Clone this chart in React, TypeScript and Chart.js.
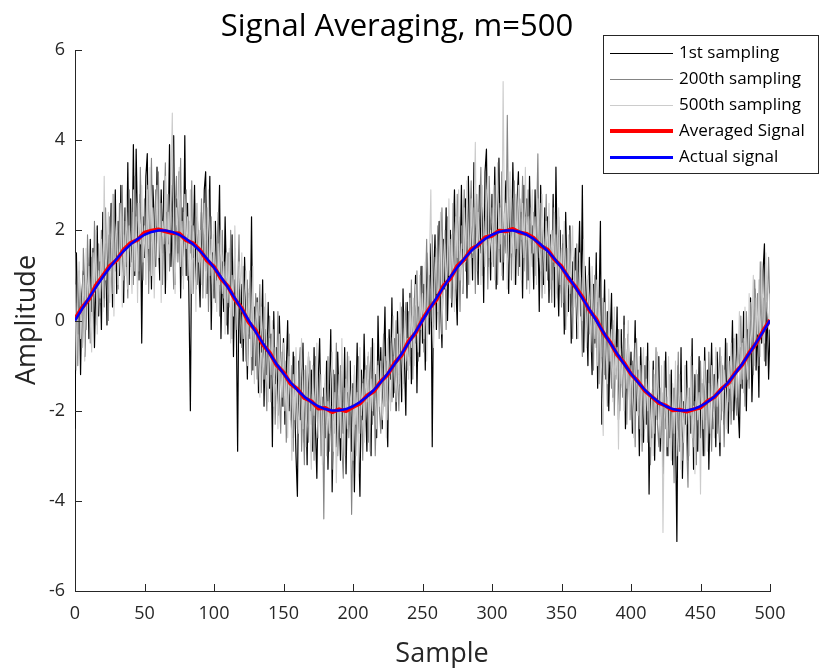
import React, { useEffect, useRef } from "react";
import { Chart, registerables } from "chart.js";
Chart.register(...registerables);

const FONT = "'Open Sans', 'DejaVu Sans', sans-serif";
const AXIS_COLOR = "#262626";

const TITLE = "Signal Averaging, m=500";
const X_LABEL = "Sample";
const Y_LABEL = "Amplitude";
const SERIES_LABELS = ["1st sampling", "200th sampling", "500th sampling", "Averaged Signal", "Actual signal"];
const SERIES_COLORS = ["#000000", "#848484", "#cccccc", "#ff0000", "#0000ff"];
const SERIES_WIDTHS = [1.2, 1.1, 1.1, 4, 2.5];
const X_TICKS = [0, 50, 100, 150, 200, 250, 300, 350, 400, 450, 500];
const Y_TICKS = [-6, -4, -2, 0, 2, 4, 6];
const SMOOTH_STEP = 5; // smooth series are sampled every 5 samples

// 1st sampling (samples 0..500)
const FIRST_SAMPLING = [
  -2.4, 1.5, -0.3, 0.9, -1.2, 0.6, 1.1, -0.8, 0.3, 1.4,
  -0.4, 1.8, 0.2, 1.6, -0.6, 0.9, 2.1, 0.1, 1.3, -0.2,
  2.4, 0.5, 1.7, -0.1, 1.9, 1.1, 2.6, 0.3, 1.5, 2.9,
  0.6, 2.2, 1.0, 3.0, 1.4, 0.4, 2.5, 1.2, 3.5, 0.8,
  2.7, 1.3, 3.9, 1.0, 3.8, 2.0, 0.9, 2.8, -0.5, 2.3,
  1.4, 3.2, 3.7, 1.1, 2.6, 0.7, 3.0, 2.2, 1.2, 3.4,
  1.8, 0.9, 2.9, 1.5, 3.1, 0.6, 2.4, 1.7, 3.9, 1.2,
  2.2, 4.1, 0.8, 2.7, 1.5, 3.3, 0.5, 2.5, 1.3, 4.1,
  1.0, 2.6, 0.4, -2.0, 2.1, 1.4, 3.0, 0.7, 2.3, 1.2,
  0.3, 2.4, 1.1, 2.9, 3.3, 0.6, 1.8, 3.2, -0.2, 1.5,
  0.5, 2.2, 0.9, 1.6, 3.0, -0.4, 1.3, 0.2, 2.3, 0.8,
  -0.3, 1.5, 0.6, 1.9, -0.8, 0.9, 0.1, -2.9, 1.2, -0.5,
  0.8, -0.9, 1.4, 0.2, -1.3, 0.6, -0.4, 2.3, -1.1, 0.3,
  -1.0, 0.5, -1.6, 0.1, -0.7, 0.9, -1.9, -0.2, -1.2, 0.4,
  -1.5, -0.3, -2.8, 0.2, -1.4, -0.6, -2.1, 0.1, -1.0, -1.9,
  -0.4, -2.3, -1.1, 0.0, -2.0, -1.5, -2.6, -0.7, -1.8, -3.0,
  -3.9, -0.9, -2.2, -1.3, -0.5, -2.7, -1.6, -3.2, -0.8, -2.0,
  -1.1, -2.9, -0.6, -2.4, -3.5, -1.3, -0.4, -2.2, -3.0, -1.5,
  -2.6, -0.9, -3.3, -1.7, -0.2, -3.8, -2.1, -1.2, -2.8, -0.7,
  -1.9, -3.1, -1.0, -2.5, -0.6, -3.4, -1.6, -2.3, -0.9, -2.9,
  -1.4, -3.8, -2.0, -0.5, -2.7, -3.9, -1.1, -2.2, -0.3, -1.8,
  -2.9, -0.8, -1.6, -3.0, -0.4, -2.1, -1.2, -2.6, 0.1, -1.5,
  -0.6, -2.4, -1.0, 0.3, -1.9, -2.8, -0.2, -1.3, 0.5, -1.7,
  -0.4, -2.0, 0.2, -1.2, -0.3, -1.8, 0.7, -0.9, -2.1, 0.4,
  -1.0, 0.6, -1.4, 0.1, -0.2, 1.0, -1.6, 0.3, -0.8, 1.2,
  -0.5, 0.8, -1.1, 1.5, 0.2, -0.3, 1.7, -2.8, 0.9, 1.9,
  -0.2, 1.3, 2.2, 0.4, -0.6, 1.8, 0.7, 2.5, 0.0, 1.4,
  2.0, 0.3, 1.6, 2.9, 0.8, -0.1, 2.3, 1.1, 3.0, 0.6,
  1.9, 2.7, 0.5, 3.2, 1.4, 2.4, 0.9, 3.5, 1.7, 2.2,
  0.8, 3.0, 1.5, 2.6, 0.4, 3.3, 3.8, 1.2, 2.5, 0.9,
  2.8, 1.6, 3.4, 0.7, 2.2, 3.6, 1.3, 2.7, 0.9, 2.4,
  3.1, 1.7, 0.6, 2.9, 1.4, 3.5, 2.0, 0.8, 2.6, 3.3,
  1.2, 2.4, 0.5, 3.0, 1.8, 2.7, 0.9, 3.2, 1.5, 2.1,
  0.7, 2.9, 1.3, 2.2, 0.2, 3.0, 1.6, 0.8, 2.5, 1.1,
  2.3, 0.4, 1.9, 0.9, 2.8, 0.3, 3.4, 1.2, 0.1, 2.0,
  0.6, 1.7, -0.3, 2.4, 1.0, 0.2, 2.1, -0.5, 1.3, 0.7,
  1.6, -0.4, 0.9, 2.2, 0.1, 3.0, -0.7, 1.2, 0.3, -1.0,
  1.4, 0.0, -1.2, 0.8, -0.5, 1.5, -1.5, 0.3, 2.2, -2.3,
  -0.6, 0.9, -1.3, 0.2, -2.0, -0.4, 0.6, -1.7, -0.1, -1.1,
  0.3, -2.2, -0.9, -0.2, -1.6, 0.1, -2.4, -1.0, -0.3, -1.8,
  -0.7, -2.5, -1.4, 0.0, -2.0, -1.1, -3.0, -0.6, -1.9, -2.7,
  -1.0, -2.3, -0.5, -3.85, -1.7, -2.6, -0.9, -3.1, -1.4, -2.2,
  -0.8, -2.9, -1.6, -3.4, -2.0, -0.7, -3.0, -1.9, -2.6, -1.1,
  -3.2, -1.5, -2.4, -4.9, -1.0, -2.8, -0.6, -3.5, -1.8, -2.3,
  -0.9, -3.1, -1.7, -2.5, -0.4, -3.3, -1.2, -2.0, -2.9, -0.8,
  -2.6, -1.4, -3.0, -0.6, -2.2, -1.1, -3.3, -1.8, -0.5, -2.4,
  -1.2, -2.8, -0.7, -1.9, -3.0, -0.9, -1.6, -2.3, -0.4, -1.7,
  -2.5, -0.8, -1.4, 0.0, -2.2, -1.1, -0.3, -1.9, -2.6, -0.6,
  -1.5, 0.2, -0.9, -2.0, -0.2, -1.3, 0.5, -1.8, -0.6, 0.7,
  -1.1, 0.0, -1.7, 0.9, -0.5, 1.1, 1.7, -1.0, 0.4, -1.3,
  -0.2,
];

// 200th sampling
const SAMPLING_200 = [
  1.5, 0.2, -1.0, 1.1, 0.4, -0.6, 1.6, 0.8, -0.2, 1.9,
  0.7, -0.5, 1.4, 0.1, 2.2, 0.9, -0.1, 1.7, 0.4, 2.0,
  1.2, 0.3, 2.5, 1.0, 0.0, 2.3, 1.5, 0.6, 2.8, 1.1,
  2.0, 0.7, 2.6, 1.6, 3.0, 0.9, 2.2, 1.4, 0.5, 2.9,
  1.2, 2.4, 0.8, 3.2, 1.9, 2.6, 1.1, 3.4, 2.0, 0.9,
  2.7, 1.5, 3.0, 0.6, 2.3, 3.6, 1.8, 1.0, 2.9, 2.1,
  3.3, 1.4, 2.6, 0.8, 2.2, 3.5, 1.6, 2.8, 1.1, 3.0,
  1.9, 0.7, 2.5, 3.2, 1.3, 2.1, 3.6, 1.0, 2.4, 1.7,
  2.9, 0.9, 2.2, 1.5, 3.1, 0.6, 1.8, 2.6, 0.8, 2.0,
  1.3, 2.7, 0.5, 1.9, 1.1, 2.5, 0.2, 1.6, 2.3, 0.7,
  1.9, 0.4, 1.4, 2.4, 0.1, 1.0, 2.0, 0.5, 1.2, -0.1,
  1.5, 0.3, 2.0, -0.4, 0.9, 1.6, -0.2, 0.7, 1.9, 0.0,
  -0.6, 1.2, 0.1, -0.9, 0.9, -0.3, 1.1, -1.2, 0.4, -0.5,
  0.6, -1.3, -0.1, 0.8, -1.6, -0.6, 0.3, -1.0, -2.0, -0.4,
  0.1, -1.8, -0.9, -0.2, -2.3, -1.1, 0.2, -1.6, -2.5, -0.7,
  -1.9, -0.9, -2.7, -1.4, -0.3, -2.2, -1.0, -2.9, -0.8, -1.6,
  -2.4, -1.1, -0.6, -2.9, -1.8, -3.2, -1.0, -2.2, -2.7, -0.9,
  -2.3, -1.5, -3.1, -0.8, -2.0, -2.6, -1.2, -3.0, -1.7, -4.4,
  -1.4, -2.3, -0.8, -2.9, -1.9, -3.3, -1.1, -2.5, -0.5, -3.0,
  -2.2, -1.0, -2.8, -3.5, -1.5, -2.1, -0.7, -2.6, -1.8, -4.3,
  -2.4, -1.2, -3.0, -1.7, -0.8, -2.5, -1.9, -3.1, -1.3, -2.2,
  -1.0, -2.7, -1.5, -0.6, -2.3, -1.1, -3.0, -1.8, -0.9, -2.0,
  -2.5, -1.2, -0.3, -1.9, -0.9, -2.2, -1.5, -0.5, -1.8, -0.8,
  -1.6, 0.0, -1.3, -2.0, -0.6, 0.3, -1.4, -0.3, 0.4, -1.1,
  0.2, -0.8, 0.9, -1.3, 0.5, -0.5, 1.1, -0.9, 0.8, 0.1,
  1.2, -0.7, 0.6, 1.8, -0.3, 1.0, 0.3, 1.9, -0.1, 1.4,
  0.6, 2.1, -0.4, 1.5, 2.5, 0.8, 1.7, -0.2, 2.3, 1.0,
  1.8, 0.4, 2.6, 1.3, 0.7, 2.8, 1.5, 0.2, 2.1, 1.6,
  2.9, 1.1, 2.3, 0.8, 2.0, 3.1, 1.4, 2.5, 0.6, 2.8,
  1.6, 2.4, 3.4, 1.0, 2.2, 1.5, 2.9, 0.7, 3.2, 1.9,
  2.5, 1.2, 3.0, 2.0, 0.8, 2.6, 1.7, 3.3, 1.3, 2.2,
  1.5, 4.55, 1.9, 2.8, 0.9, 2.4, 3.1, 1.6, 2.2, 1.0,
  2.7, 1.8, 3.2, 1.1, 2.3, 0.7, 2.9, 1.9, 2.5, 1.2,
  2.4, 1.0, 2.1, 3.7, 1.4, 2.6, 0.5, 2.0, 1.3, 2.8,
  0.9, 2.2, 1.6, 0.4, 2.5, 1.2, 1.9, 0.6, 2.3, 1.5,
  0.3, 1.9, 1.1, -0.2, 1.6, 0.8, 2.0, 0.4, -0.4, 1.4,
  0.5, 1.7, -0.1, 1.0, 0.3, -0.8, 1.3, 0.6, -0.5, 0.9,
  -0.3, 0.8, 0.2, -1.1, 1.0, -0.6, 0.4, -1.4, 0.1, -0.8,
  0.5, -1.2, -0.3, -1.9, 0.2, -0.9, -1.5, 0.0, -2.1, -0.6,
  -1.3, -0.2, -2.0, -0.8, -1.7, -0.1, -1.2, -2.3, -0.5, -1.6,
  -2.2, -0.9, -1.3, -2.8, -0.4, -1.8, -2.4, -1.0, -2.9, -1.5,
  -2.0, -0.8, -2.7, -1.4, -3.2, -1.9, -1.1, -2.5, -0.6, -2.3,
  -2.8, -1.5, -2.1, -3.3, -0.9, -2.4, -1.7, -3.0, -1.2, -2.6,
  -2.0, -3.6, -1.3, -2.2, -0.7, -2.9, -1.6, -3.1, -2.4, -1.0,
  -2.7, -3.7, -1.5, -2.1, -1.0, -2.8, -1.8, -3.2, -1.2, -2.5,
  -0.9, -2.2, -1.6, -3.0, -1.4, -2.6, -0.7, -2.0, -2.9, -1.2,
  -1.9, -0.8, -2.5, -1.3, -0.6, -2.2, -1.0, -2.8, -1.5, -0.5,
  -1.8, -0.9, -2.3, -1.2, -0.4, -1.6, -2.1, -0.6, -1.0, 0.1,
  -1.3, -0.4, -1.9, 0.2, -0.8, -1.5, 0.4, -0.2, -1.2, 0.9,
  -0.4, 0.6, -1.0, 1.3, -0.3, 0.5, -0.9, 1.0, 0.2, 1.4,
  0.3,
];

// 500th sampling
const SAMPLING_500 = [
  0.8, -1.1, 0.5, 1.3, -0.4, 0.2, 1.0, -0.9, 1.6, 0.4,
  1.2, 0.0, -0.7, 1.5, 0.6, 2.0, -0.3, 1.1, 0.5, 1.8,
  0.2, 3.2, 0.9, 1.6, 2.4, 0.4, 1.3, 2.8, 0.1, 1.7,
  2.3, 0.8, 1.5, 2.6, 0.3, 1.9, 1.0, 2.8, 0.7, 2.1,
  1.5, 0.6, 2.9, 1.1, 2.3, 0.4, 2.6, 1.7, 3.0, 1.3,
  2.1, 0.8, 2.9, 1.6, 3.4, 1.0, 2.5, 0.5, 1.9, 3.0,
  1.4, 2.6, 0.4, 2.2, 1.7, 3.2, 0.9, 2.4, 1.5, 3.0,
  4.6, 1.8, 0.6, 2.5, 1.9, 3.4, 1.2, 2.2, 0.7, 2.8,
  1.6, 2.3, 1.0, 2.9, 0.6, 2.1, 1.4, 0.2, 2.6, 1.3,
  2.0, 0.8, 1.7, 2.6, 0.5, 1.4, 2.9, 1.0, 1.8, 0.3,
  2.2, 1.0, 0.2, 1.7, 0.8, 2.0, 0.6, 1.3, -0.3, 1.5,
  0.4, 1.6, -0.5, 1.0, 0.1, 2.1, 0.5, -0.2, 1.3, 0.7,
  1.5, -0.4, 0.4, 1.1, -1.0, 0.7, 0.0, -0.8, 1.2, -1.4,
  -0.2, 0.4, -0.8, -1.7, 0.3, -0.5, -1.3, 0.6, -0.9, -1.8,
  -0.4, -1.2, 0.0, -1.9, -0.6, -1.4, -2.4, -0.3, -1.1, -1.7,
  -0.5, -2.0, -1.3, -2.6, -0.8, -1.6, -3.1, -1.2, -2.2, -0.6,
  -1.8, -2.5, -1.3, -0.4, -2.4, -1.1, -2.8, -1.6, -0.7, -2.3,
  -3.3, -1.0, -2.1, -1.6, -0.5, -2.6, -2.0, -1.2, -3.2, -1.9,
  -1.2, -3.0, -1.8, -2.5, -1.3, -0.7, -2.9, -1.6, -3.6, -2.1,
  -1.2, -2.6, -0.4, -1.9, -3.0, -1.3, -2.4, -0.8, -2.0, -1.5,
  -3.1, -1.0, -2.3, -1.6, -3.4, -0.6, -2.1, -1.4, -2.7, -1.1,
  -1.8, -0.7, -2.9, -1.3, -2.0, -0.5, -1.7, -2.4, -1.0, -1.9,
  -0.9, -2.2, -1.6, -0.8, -2.6, -0.4, -1.3, -2.0, -0.7, 0.1,
  -1.0, -1.8, -0.3, -1.4, 0.4, -0.7, -1.5, 0.2, -0.9, -0.4,
  -1.3, 0.5, -0.6, 0.3, -1.0, 0.8, 0.0, -0.7, 1.0, -0.2,
  0.6, -0.4, 1.3, -0.9, 0.7, 1.4, 2.9, 0.1, -0.6, 1.0,
  1.6, 0.2, 1.0, 2.4, -0.3, 1.2, 2.0, 0.7, 1.4, 2.7,
  0.5, 1.9, 1.0, 0.2, 2.3, 1.4, 2.9, 0.9, 1.7, 0.6,
  2.5, 1.3, 3.1, 2.0, 0.8, 2.7, 1.5, 2.2, 3.95, 1.1,
  2.4, 1.7, 0.8, 3.0, 2.2, 1.2, 2.6, 3.2, 1.4, 2.0,
  1.3, 2.9, 0.9, 2.3, 3.5, 1.6, 2.5, 1.0, 5.3, 1.9,
  2.6, 0.7, 2.2, 3.3, 1.5, 2.0, 0.8, 2.8, 1.6, 3.0,
  2.1, 0.9, 2.6, 1.4, 3.4, 1.8, 2.3, 0.6, 2.0, 2.9,
  1.5, 2.3, 0.8, 2.7, 1.6, 1.1, 2.8, 1.9, 0.6, 2.2,
  1.5, 2.6, 0.7, 2.0, 1.3, 2.4, 0.5, 1.8, 2.5, 0.8,
  1.6, 0.4, 2.2, 1.0, 0.1, 1.9, 0.6, 1.4, 2.1, 0.3,
  1.1, 0.3, -0.4, 1.5, 0.7, 0.0, 1.8, 0.2, -0.6, 1.0,
  0.4, -0.7, 1.2, 0.1, -0.4, 0.9, -1.0, 0.5, -0.3, -1.2,
  -2.55, 0.4, -0.6, -1.4, 0.7, -0.9, -0.2, -1.8, 0.3, -1.2,
  -0.6, -2.85, -0.2, -1.4, -0.9, -2.0, -0.4, -1.5, 0.0, -2.2,
  -1.0, -1.6, -2.6, -0.5, -1.3, -2.1, -0.8, -2.5, -1.2, -0.6,
  -2.4, -1.3, -2.0, -0.9, -2.8, -1.6, -3.0, -1.2, -2.1, -0.7,
  -1.9, -2.6, -1.0, -4.7, -2.2, -1.5, -2.8, -0.8, -2.4, -3.1,
  -1.4, -2.5, -0.9, -3.0, -2.0, -1.2, -3.3, -1.8, -2.7, -1.0,
  -2.3, -1.5, -3.0, -0.8, -2.6, -1.9, -3.4, -1.1, -2.2, -1.6,
  -3.85, -1.3, -2.4, -0.9, -2.0, -2.9, -1.4, -2.5, -1.0, -1.8,
  -2.6, -0.6, -1.9, -1.3, -2.7, -0.8, -2.0, -1.1, -1.6, -2.4,
  -0.9, -1.5, -0.5, -2.0, -1.2, -0.3, -1.7, -0.8, 0.2, -1.4,
  -0.5, -1.6, 0.3, -0.9, -1.3, 0.6, -0.7, -0.1, 1.0, -1.0,
  0.5, -0.3, 0.9, -0.8, 1.3, 0.0, -0.5, 1.5, 0.3, -0.2,
  0.6,
];

// Averaged signal (every 5 samples, 0..500)
const AVERAGED_SIGNAL = [
  0.03, 0.28, 0.47, 0.78, 0.99, 1.21, 1.34, 1.57, 1.72, 1.79,
  1.95, 1.99, 2.02, 1.98, 1.94, 1.93, 1.78, 1.71, 1.56, 1.33,
  1.19, 0.93, 0.76, 0.47, 0.27, -0.04, -0.22, -0.53, -0.71, -0.99,
  -1.15, -1.40, -1.52, -1.72, -1.79, -1.95, -1.94, -2.03, -1.97, -2.01,
  -1.92, -1.84, -1.67, -1.57, -1.35, -1.20, -0.94, -0.77, -0.46, -0.28,
  0.02, 0.27, 0.46, 0.77, 0.93, 1.21, 1.35, 1.58, 1.67, 1.84,
  1.88, 1.99, 1.98, 2.03, 1.95, 1.92, 1.83, 1.66, 1.57, 1.35,
  1.20, 0.94, 0.75, 0.52, 0.23, 0.03, -0.27, -0.48, -0.76, -0.94,
  -1.19, -1.35, -1.56, -1.69, -1.83, -1.89, -1.99, -1.98, -2.02, -1.97,
  -1.93, -1.79, -1.70, -1.52, -1.39, -1.16, -0.98, -0.72, -0.51, -0.23,
  0.01,
];

// Actual signal (every 5 samples, 0..500)
const ACTUAL_SIGNAL = [
  0, 0.251, 0.497, 0.736, 0.964, 1.176, 1.369, 1.541, 1.689, 1.81,
  1.902, 1.965, 1.996, 1.996, 1.965, 1.902, 1.81, 1.689, 1.541, 1.369,
  1.176, 0.964, 0.736, 0.497, 0.251, 0, -0.251, -0.497, -0.736, -0.964,
  -1.176, -1.369, -1.541, -1.689, -1.81, -1.902, -1.965, -1.996, -1.996, -1.965,
  -1.902, -1.81, -1.689, -1.541, -1.369, -1.176, -0.964, -0.736, -0.497, -0.251,
  0, 0.251, 0.497, 0.736, 0.964, 1.176, 1.369, 1.541, 1.689, 1.81,
  1.902, 1.965, 1.996, 1.996, 1.965, 1.902, 1.81, 1.689, 1.541, 1.369,
  1.176, 0.964, 0.736, 0.497, 0.251, 0, -0.251, -0.497, -0.736, -0.964,
  -1.176, -1.369, -1.541, -1.689, -1.81, -1.902, -1.965, -1.996, -1.996, -1.965,
  -1.902, -1.81, -1.689, -1.541, -1.369, -1.176, -0.964, -0.736, -0.497, -0.251,
  0,
];

const toPoints = (vals: number[], step: number) => vals.map((y, i) => ({ x: i * step, y }));

const decorPlugin = {
  id: "decor",
  afterDraw(chart: any) {
    const ctx: CanvasRenderingContext2D = chart.ctx;
    const xs = chart.scales.x;
    const ys = chart.scales.y;
    const { left, bottom } = chart.chartArea;
    ctx.save();
    // inward tick marks
    ctx.strokeStyle = AXIS_COLOR;
    ctx.lineWidth = 1;
    ctx.beginPath();
    xs.ticks.forEach((t: any) => {
      const px = Math.round(xs.getPixelForValue(t.value)) + 0.5;
      ctx.moveTo(px, bottom);
      ctx.lineTo(px, bottom - 7);
    });
    ys.ticks.forEach((t: any) => {
      const py = Math.round(ys.getPixelForValue(t.value)) + 0.5;
      ctx.moveTo(left, py);
      ctx.lineTo(left + 7, py);
    });
    ctx.stroke();

    // title and axis labels
    ctx.fillStyle = "#000";
    ctx.textAlign = "center";
    ctx.textBaseline = "alphabetic";
    ctx.font = `31px ${FONT}`;
    ctx.fillText(TITLE, 397, 36);
    ctx.fillStyle = AXIS_COLOR;
    ctx.font = `27px ${FONT}`;
    ctx.fillText(X_LABEL, 442, 662);
    ctx.save();
    ctx.translate(35, 320);
    ctx.rotate(-Math.PI / 2);
    ctx.fillText(Y_LABEL, 0, 0);
    ctx.restore();

    // legend box
    const bx = 603.5, by = 35.5, bw = 215, bh = 138;
    ctx.fillStyle = "#fff";
    ctx.fillRect(bx, by, bw, bh);
    ctx.strokeStyle = AXIS_COLOR;
    ctx.lineWidth = 1;
    ctx.strokeRect(bx, by, bw, bh);
    ctx.font = `17px ${FONT}`;
    ctx.textAlign = "left";
    ctx.textBaseline = "middle";
    chart.data.datasets.forEach((ds: any, i: number) => {
      const y = 53 + i * 26;
      const w = ds.borderWidth < 2 ? 1 : Math.round(ds.borderWidth);
      const ly = w % 2 === 1 ? y + 0.5 : y;
      ctx.strokeStyle = ds.borderColor;
      ctx.lineWidth = w;
      ctx.beginPath();
      ctx.moveTo(610, ly);
      ctx.lineTo(673, ly);
      ctx.stroke();
      ctx.fillStyle = "#000";
      ctx.fillText(ds.label, 679, y);
    });
    ctx.restore();
  },
};

export default function App() {
  const ref = useRef<HTMLCanvasElement | null>(null);
  useEffect(() => {
    if (!ref.current) return;
    const series = [
      toPoints(FIRST_SAMPLING, 1),
      toPoints(SAMPLING_200, 1),
      toPoints(SAMPLING_500, 1),
      toPoints(AVERAGED_SIGNAL, SMOOTH_STEP),
      toPoints(ACTUAL_SIGNAL, SMOOTH_STEP),
    ];
    const chart = new Chart(ref.current, {
      type: "line",
      data: {
        datasets: series.map((data, i) => ({
          label: SERIES_LABELS[i],
          data,
          borderColor: SERIES_COLORS[i],
          backgroundColor: SERIES_COLORS[i],
          borderWidth: SERIES_WIDTHS[i],
          pointRadius: 0,
          tension: 0,
          fill: false,
          order: 5 - i,
          borderJoinStyle: "round" as const,
        })),
      },
      options: {
        animation: false,
        responsive: false,
        devicePixelRatio: 1,
        layout: { padding: { left: 0, right: 54, top: 50, bottom: 0 } },
        plugins: {
          legend: { display: false },
          title: { display: false },
          tooltip: { enabled: false },
        },
        scales: {
          x: {
            type: "linear",
            min: 0,
            max: 500,
            afterFit: (s: any) => { s.height = 77; },
            afterBuildTicks: (s: any) => { s.ticks = X_TICKS.map((v) => ({ value: v })); },
            grid: { display: false, drawTicks: false },
            border: { display: true, color: AXIS_COLOR, width: 1 },
            ticks: {
              color: AXIS_COLOR,
              font: { family: FONT, size: 18 },
              padding: 12,
              maxRotation: 0,
              autoSkip: false,
            },
          },
          y: {
            type: "linear",
            min: -6,
            max: 6,
            afterFit: (s: any) => { s.width = 75; },
            afterBuildTicks: (s: any) => { s.ticks = Y_TICKS.map((v) => ({ value: v })); },
            grid: { display: false, drawTicks: false },
            border: { display: true, color: AXIS_COLOR, width: 1 },
            ticks: {
              color: AXIS_COLOR,
              font: { family: FONT, size: 18 },
              padding: 10,
              autoSkip: false,
            },
          },
        },
      },
      plugins: [decorPlugin],
    });
    return () => chart.destroy();
  }, []);
  return (
    <div style={{ position: "absolute", left: 0, top: 0, width: 824, height: 668, background: "#fff" }}>
      <canvas ref={ref} width={824} height={668} style={{ display: "block" }} />
    </div>
  );
}
